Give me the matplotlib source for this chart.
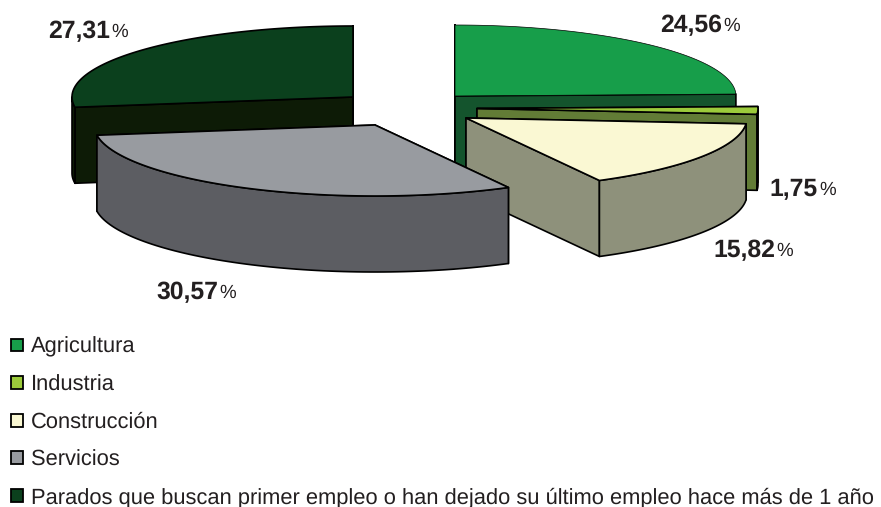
import numpy as np
import matplotlib
matplotlib.use('Agg')
import matplotlib.pyplot as plt
from matplotlib.patches import Patch

plt.rcParams['font.family'] = ['Liberation Sans', 'DejaVu Sans']
plt.rcParams['text.hinting'] = 'none'

# datos
categorias = ['Agricultura', 'Industria', 'Construcción', 'Servicios',
              'Parados que buscan primer empleo o han dejado su último empleo hace más de 1 año']
valores = [24.56, 1.75, 15.82, 30.57, 27.31]

# estilo
col_top = ['#179E4A', '#9CCB3B', '#FAF8D3', '#989BA0', '#0B401D']
col_side = ['#14542D', '#627C36', '#8E917B', '#5C5D62', '#0D1B06']
apex_x = [455, 477, 466, 375, 353]
apex_y = [96, 108.5, 118, 125, 97]
orden = [0, 4, 1, 2, 3]  # de atras hacia delante
rx, ry, prof = 281, 71, 76
# x donde acaba la parte en negrita, y del centro
label_x = [722, 818, 775, 218, 110]
label_y = [25.5, 189.5, 250.5, 292.5, 32]

fig = plt.figure(figsize=(8.81, 5.07), dpi=100)
ax = fig.add_axes([0, 0, 1, 1])
ax.set_xlim(0, 881)
ax.set_ylim(507, 0)
ax.axis('off')

limites = np.concatenate([[0], np.cumsum(valores)]) / sum(valores) * 2 * np.pi


def punto(i, t):
    return apex_x[i] + rx * np.sin(t), apex_y[i] - ry * np.cos(t)


def caras(i):
    a, b = limites[i], limites[i + 1]
    lw = 1.2
    # caras de corte
    for t in (a, b):
        x, y = punto(i, t)
        ax.fill([apex_x[i], x, x, apex_x[i]],
                [apex_y[i], y, y + prof, apex_y[i] + prof],
                fc=col_side[i], ec='black', lw=lw, joinstyle='round')
    # pared exterior (solo la mitad de delante)
    a2, b2 = max(a, np.pi / 2), min(b, 3 * np.pi / 2)
    if a2 < b2:
        t = np.linspace(a2, b2, 80)
        x, y = punto(i, t)
        ax.fill(np.r_[x, x[::-1]], np.r_[y, y[::-1] + prof],
                fc=col_side[i], ec='black', lw=lw, joinstyle='round')
    # tapa
    t = np.linspace(a, b, 120)
    x, y = punto(i, t)
    ax.fill(np.r_[apex_x[i], x], np.r_[apex_y[i], y],
            fc=col_top[i], ec='black', lw=lw if i != 0 else 0.5, joinstyle='round')


for i in orden:
    caras(i)

for i, v in enumerate(valores):
    ax.text(label_x[i], label_y[i], f'{v:.2f}'.replace('.', ','), ha='right', va='center',
            fontsize=17.8, fontweight='bold', color='#231F20')
    ax.text(label_x[i] + 1, label_y[i], '%', ha='left', va='center',
            fontsize=13.5, color='#231F20')

handles = [Patch(fc=c, ec='black', lw=1.3) for c in col_top]
ax.legend(handles, categorias, loc='lower left', bbox_to_anchor=(11, 507 + 1), bbox_transform=ax.transData,
          frameon=False, fontsize=15.78, borderpad=0, borderaxespad=0, labelspacing=0.78,
          handlelength=0.53, handleheight=0.53, handletextpad=0.38, labelcolor='#231F20')

fig.savefig('out.png', dpi=100)
